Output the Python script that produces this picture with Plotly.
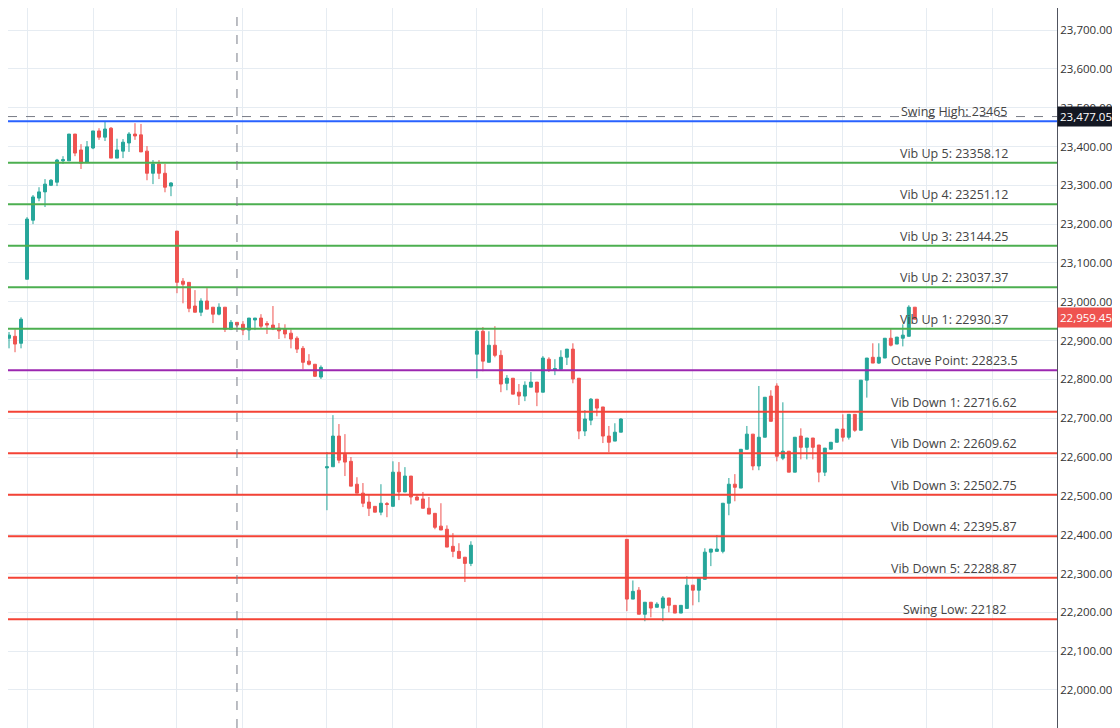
import plotly.graph_objs as go

# candle OHLC, one entry per bar (index 0 = leftmost)
opens = [22940, 22906, 22911, 22893, 23058, 23210, 23267, 23283, 23300, 23308, 23363, 23363, 23432, 23391, 23360,
         23396, 23440, 23424, 23447, 23370, 23388, 23409, 23432, 23430, 23388, 23331, 23355, 23331, 23298, 23182,
         23053, 23050, 22989, 22973, 23002, 22986, 22968, 22986, 22929, 22947, 22942, 22927, 22953, 22958, 22944,
         22940, 22932, 22929, 22919, 22906, 22880, 22847, 22839, 22806, 22572, 22575, 22654, 22607, 22589, 22530,
         22507, 22484, 22473, 22458, 22480, 22473, 22561, 22510, 22551, 22497, 22492, 22468, 22455, 22422, 22414,
         22370, 22357, 22342, 22326, 22865, 22924, 22844, 22888, 22862, 22790, 22803, 22767, 22757, 22780, 22793,
         22767, 22852, 22824, 22826, 22857, 22878, 22803, 22667, 22695, 22749, 22729, 22654, 22641, 22664, 22388,
         22234, 22257, 22195, 22226, 22213, 22211, 22237, 22218, 22198, 22210, 22270, 22257, 22285, 22355, 22357,
         22357, 22481, 22530, 22520, 22620, 22659, 22577, 22651, 22757, 22783, 22597, 22615, 22561, 22654, 22625,
         22649, 22631, 22561, 22620, 22638, 22672, 22651, 22710, 22669, 22798, 22857, 22842, 22855, 22906, 22891,
         22906, 22911, 22986]
highs = [22955, 22922, 22929, 22960, 23218, 23275, 23295, 23316, 23316, 23368, 23375, 23432, 23432, 23406, 23414,
         23440, 23447, 23463, 23450, 23420, 23419, 23437, 23460, 23458, 23401, 23365, 23365, 23355, 23308, 23182,
         23061, 23050, 23030, 23009, 23035, 22986, 22996, 22986, 22953, 22947, 22950, 22958, 22958, 22968, 22950,
         22989, 22945, 22942, 22929, 22911, 22886, 22865, 22839, 22836, 22613, 22708, 22685, 22659, 22600, 22548,
         22533, 22502, 22473, 22530, 22484, 22589, 22587, 22574, 22551, 22504, 22510, 22497, 22455, 22481, 22424,
         22404, 22378, 22342, 22383, 22932, 22935, 22924, 22937, 22875, 22811, 22803, 22788, 22795, 22819, 22793,
         22860, 22857, 22852, 22875, 22878, 22893, 22803, 22721, 22752, 22749, 22729, 22680, 22687, 22700, 22388,
         22282, 22265, 22226, 22226, 22226, 22242, 22237, 22218, 22218, 22293, 22270, 22288, 22365, 22363, 22399,
         22481, 22546, 22556, 22620, 22680, 22659, 22783, 22754, 22772, 22790, 22741, 22615, 22651, 22674, 22649,
         22649, 22631, 22623, 22638, 22672, 22710, 22710, 22710, 22798, 22855, 22893, 22893, 22906, 22932, 22909,
         22942, 22991, 22986]
lows = [22880, 22880, 22870, 22880, 23058, 23200, 23259, 23244, 23298, 23298, 23355, 23363, 23375, 23342, 23357,
        23393, 23417, 23414, 23370, 23370, 23370, 23386, 23417, 23386, 23313, 23303, 23316, 23282, 23272, 23022,
        22996, 22973, 22973, 22963, 22981, 22945, 22965, 22922, 22927, 22935, 22914, 22901, 22927, 22932, 22917,
        22927, 22904, 22906, 22880, 22868, 22826, 22836, 22806, 22801, 22463, 22575, 22584, 22551, 22525, 22507,
        22471, 22448, 22458, 22450, 22445, 22473, 22489, 22510, 22478, 22489, 22468, 22453, 22414, 22412, 22368,
        22342, 22339, 22278, 22319, 22803, 22821, 22844, 22857, 22767, 22772, 22762, 22734, 22744, 22780, 22731,
        22767, 22819, 22811, 22826, 22837, 22790, 22646, 22654, 22682, 22705, 22636, 22613, 22641, 22664, 22203,
        22234, 22195, 22177, 22187, 22213, 22177, 22200, 22198, 22198, 22210, 22218, 22226, 22285, 22319, 22357,
        22352, 22450, 22486, 22520, 22620, 22566, 22566, 22651, 22692, 22589, 22592, 22561, 22561, 22594, 22594,
        22594, 22535, 22551, 22620, 22638, 22640, 22645, 22665, 22669, 22753, 22842, 22840, 22855, 22885, 22891,
        22885, 22911, 22955]
closes = [22904, 22914, 22891, 22955, 23213, 23270, 23283, 23303, 23313, 23365, 23366, 23432, 23383, 23357, 23399,
          23440, 23424, 23445, 23370, 23391, 23411, 23432, 23427, 23386, 23331, 23355, 23331, 23295, 23306, 23050,
          23045, 22983, 22973, 23002, 22981, 22968, 22986, 22929, 22947, 22940, 22927, 22958, 22958, 22937, 22940,
          22930, 22925, 22917, 22904, 22878, 22844, 22839, 22808, 22831, 22575, 22654, 22592, 22587, 22525, 22507,
          22481, 22468, 22458, 22481, 22478, 22561, 22510, 22551, 22497, 22489, 22468, 22453, 22419, 22412, 22368,
          22357, 22339, 22326, 22373, 22924, 22847, 22888, 22862, 22788, 22803, 22762, 22757, 22785, 22793, 22767,
          22855, 22826, 22828, 22857, 22878, 22801, 22667, 22698, 22749, 22726, 22654, 22638, 22664, 22698, 22234,
          22254, 22195, 22226, 22211, 22221, 22237, 22218, 22198, 22218, 22270, 22257, 22288, 22355, 22363, 22363,
          22481, 22530, 22522, 22620, 22659, 22577, 22651, 22754, 22692, 22602, 22615, 22561, 22651, 22625, 22649,
          22625, 22561, 22623, 22638, 22672, 22651, 22710, 22669, 22798, 22855, 22842, 22857, 22906, 22888, 22909,
          22914, 22986, 22955]

# octave / vibration levels
level_names = ['Swing High', 'Vib Up 5', 'Vib Up 4', 'Vib Up 3', 'Vib Up 2', 'Vib Up 1', 'Octave Point',
               'Vib Down 1', 'Vib Down 2', 'Vib Down 3', 'Vib Down 4', 'Vib Down 5', 'Swing Low']
level_values = [23465, 23358.12, 23251.12, 23144.25, 23037.37, 22930.37, 22823.5,
                22716.62, 22609.62, 22502.75, 22395.87, 22288.87, 22182]
level_colors = ['#2962ff'] + ['#4caf50'] * 5 + ['#9c27b0'] + ['#f44336'] * 6

session_starts = [4, 15, 29, 40, 54, 65, 79, 90, 104, 115, 129, 140, 154, 165]
cursor_price = 23477.05
cursor_bar = 39
last_price = 22959.45

x = list(range(len(opens)))

fig = go.Figure(go.Candlestick(
    x=x, open=opens, high=highs, low=lows, close=closes,
    increasing=dict(line=dict(color='#26a69a', width=1), fillcolor='#26a69a'),
    decreasing=dict(line=dict(color='#ef5350', width=1), fillcolor='#ef5350'),
    whiskerwidth=0, hoverinfo='skip'))

for name, val, col in zip(level_names, level_values, level_colors):
    fig.add_hline(y=val, line=dict(color=col, width=2), layer='above')
    fig.add_annotation(x=158.6, y=val, text=f'{name}: {val}', showarrow=False,
                       xanchor='center', yanchor='bottom', yshift=-1,
                       font=dict(size=12.5, color='#444', family='Open Sans'))

# crosshair
fig.add_hline(y=cursor_price, line=dict(color='#787b86', width=1, dash='dash'))
fig.add_vline(x=cursor_bar, line=dict(color='#787b86', width=1, dash='dash'))

fig.add_annotation(xref='paper', x=1, y=cursor_price, text=f'{cursor_price:,.2f}', showarrow=False,
                   xanchor='left', bgcolor='#131722', font=dict(color='white', size=11.5, family='Open Sans'),
                   borderpad=2, xshift=0)
fig.add_annotation(xref='paper', x=1, y=last_price, text=f'{last_price:,.2f}', showarrow=False,
                   xanchor='left', bgcolor='#ef5350', font=dict(color='white', size=11.5, family='Open Sans'),
                   borderpad=2, xshift=0)

# the page puts the figure 8px in from the top-left corner, so the ranges start there
fig.update_xaxes(range=[0.83, 175.7], tickvals=session_starts, showticklabels=False,
                 showgrid=True, gridcolor='#e6ecf2', gridwidth=1, zeroline=False,
                 rangeslider=dict(visible=False))
fig.update_yaxes(range=[21902, 23756.7], side='right', dtick=100, tickformat=',.2f',
                 showgrid=True, gridcolor='#e6ecf2', zeroline=False,
                 showline=True, linecolor='#50535e', linewidth=1, ticks='',
                 tickfont=dict(size=11.5, color='#333', family='Open Sans'))
fig.update_layout(width=1112, height=720, margin=dict(l=0, r=63, t=0, b=0),
                  plot_bgcolor='#FFFFFF', paper_bgcolor='#FFFFFF', showlegend=False)
fig.write_html("out.html")
